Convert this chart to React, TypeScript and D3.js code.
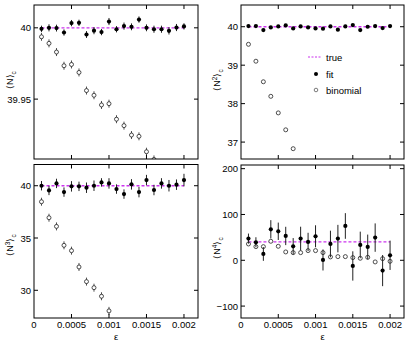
import React from 'react';
import * as d3 from 'd3';

const eps = [0.0001, 0.0002, 0.0003, 0.0004, 0.0005, 0.0006, 0.0007, 0.0008, 0.0009, 0.001,
  0.0011, 0.0012, 0.0013, 0.0014, 0.0015, 0.0016, 0.0017, 0.0018, 0.0019, 0.002];

const xTicks = [0, 0.0005, 0.001, 0.0015, 0.002];
const xTickLabels = ['0', '0.0005', '0.001', '0.0015', '0.002'];

// Panel 1: <N>_c
const c1Fit = [39.9993, 40.0, 39.9998, 39.9967, 40.0033, 40.0035, 39.9953, 39.998, 39.997, 40.0044,
  39.999, 40.0012, 40.0007, 40.0058, 40.0, 39.999, 39.999, 39.9979, 40.0002, 40.001];
const c1FitErr = [0.0022, 0.0025, 0.0024, 0.0022, 0.0022, 0.0022, 0.0024, 0.0025, 0.0022, 0.0025,
  0.0022, 0.0025, 0.0024, 0.0022, 0.0024, 0.0025, 0.0025, 0.0026, 0.0025, 0.0022];
const c1Bin = [39.9937, 39.9891, 39.983, 39.9734, 39.9743, 39.9687, 39.956, 39.9527, 39.9459, 39.9468,
  39.9359, 39.9314, 39.9248, 39.9239, 39.9131, 39.9077];
const c1Ticks = [39.95, 40];
const c1TickLabels = ['39.95', '40'];

// Panel 2: <N^2>_c
const c2Fit = [40.017, 40.017, 39.914, 39.983, 40.009, 40.034, 39.957, 40.009, 39.983, 39.957,
  39.948, 40.009, 39.922, 40.009, 40.043, 39.914, 40.0, 40.017, 39.966, 40.017];
const c2Bin = [39.543, 39.103, 38.569, 38.19, 37.759, 37.319, 36.828];
const c2Ticks = [37, 38, 39, 40];
const c2TickLabels = ['37', '38', '39', '40'];

// Panel 3: <N^3>_c
const c3Fit = [40.0, 39.55, 40.22, 39.39, 39.94, 39.94, 39.81, 40.0, 40.32, 40.22,
  39.68, 39.2, 40.13, 39.39, 40.54, 39.59, 40.22, 40.0, 40.1, 40.54];
const c3FitErr = [0.45, 0.45, 0.45, 0.45, 0.5, 0.45, 0.5, 0.5, 0.4, 0.5,
  0.45, 0.45, 0.5, 0.5, 0.5, 0.5, 0.5, 0.55, 0.5, 0.6];
const c3Bin = [38.47, 36.94, 36.11, 34.3, 33.79, 32.23, 30.83, 30.25, 29.43, 28.03];
const c3Ticks = [30, 35, 40];
const c3TickLabels = ['30', '35', '40'];

// Panel 4: <N^4>_c
const c4Fit = [47.3, 39.3, 13.8, 67.6, 63.3, 53.1, 30.5, 47.3, 40, 52.4,
  0.7, 35.6, 47.3, 74.9, -12.4, 33.5, 29.1, 49.5, -22.5, 10.9];
const c4FitErr = [11, 11, 15, 20, 19, 20, 18, 26, 20, 24,
  23, 29, 30, 28, 32, 29, 27, 31, 34, 32];
const c4Bin = [35.6, 29.8, 29.8, 41.5, 30.5, 18.2, 16.7, 16.7, 21.1, 21.1,
  16.7, 7.3, 8.0, 8.0, 5.8, 4.4, 6.5, -3.6, 3.6, -2.2];
const c4Ticks = [-100, 0, 100, 200];
const c4TickLabels = ['\u2212100', '0', '100', '200'];

const trueValue = 40;
const legendLabels = ['true', 'fit', 'binomial'];

const FONT = 'Liberation Sans, Arial, Helvetica, sans-serif';
const MAGENTA = '#cc33ee';

type PanelCfg = {
  id: string;
  x0: number; x1: number; y0: number; y1: number;
  yDomain: [number, number];
  fit: number[]; fitErr?: number[];
  bin: number[]; binBars: boolean;
  yTicks: number[]; yTickLabels: string[];
  power: string;
  labelY: number;
  showX: boolean;
  legend?: boolean;
};

const panels: PanelCfg[] = [
  { id: 'p1', x0: 34, x1: 198, y0: 5, y1: 159, yDomain: [39.908, 40.016], fit: c1Fit, fitErr: c1FitErr,
    bin: c1Bin, binBars: true, yTicks: c1Ticks, yTickLabels: c1TickLabels, power: '', labelY: 80, showX: false },
  { id: 'p2', x0: 241, x1: 404, y0: 5, y1: 159, yDomain: [36.56, 40.565], fit: c2Fit,
    bin: c2Bin, binBars: false, yTicks: c2Ticks, yTickLabels: c2TickLabels, power: '2', labelY: 80, showX: false, legend: true },
  { id: 'p3', x0: 34, x1: 198, y0: 164.5, y1: 318, yDomain: [27.35, 42.03], fit: c3Fit, fitErr: c3FitErr,
    bin: c3Bin, binBars: true, yTicks: c3Ticks, yTickLabels: c3TickLabels, power: '3', labelY: 245, showX: true },
  { id: 'p4', x0: 241, x1: 404, y0: 165, y1: 318, yDomain: [-126, 208], fit: c4Fit, fitErr: c4FitErr,
    bin: c4Bin, binBars: false, yTicks: c4Ticks, yTickLabels: c4TickLabels, power: '4', labelY: 248, showX: true },
];

function Panel({ p }: { p: PanelCfg }) {
  const x = d3.scaleLinear().domain([0, 0.002187]).range([p.x0, p.x1]);
  const y = d3.scaleLinear().domain(p.yDomain).range([p.y1, p.y0]);
  const tl = 4;
  const lineGen = d3.line<number>().x((d) => x(d)).y(() => y(trueValue));
  return (
    <g>
      <defs>
        <clipPath id={'clip' + p.id}>
          <rect x={p.x0} y={p.y0} width={p.x1 - p.x0} height={p.y1 - p.y0} />
        </clipPath>
      </defs>
      <g clipPath={`url(#clip${p.id})`}>
        <path d={lineGen([eps[0], eps[eps.length - 1]]) || ''} stroke={MAGENTA} strokeWidth={1.3}
          strokeDasharray="3,2" fill="none" />
        {p.bin.map((v, i) => (
          <g key={'b' + i}>
            {p.binBars && (
              <line x1={x(eps[i])} x2={x(eps[i])} y1={y(v) - 4} y2={y(v) + 4} stroke="#222" strokeWidth={0.8} />
            )}
            <circle cx={x(eps[i])} cy={y(v)} r={2} fill="white" stroke="#222" strokeWidth={0.8} />
          </g>
        ))}
        {p.fit.map((v, i) => (
          <g key={'f' + i}>
            {p.fitErr && (
              <line x1={x(eps[i])} x2={x(eps[i])} y1={y(v - p.fitErr[i])} y2={y(v + p.fitErr[i])}
                stroke="#222" strokeWidth={1} />
            )}
            <circle cx={x(eps[i])} cy={y(v)} r={2.1} fill="black" />
          </g>
        ))}
      </g>
      <rect x={p.x0} y={p.y0} width={p.x1 - p.x0} height={p.y1 - p.y0} fill="none" stroke="black" strokeWidth={1} />
      {xTicks.slice(1).map((t, i) => (
        <g key={'xt' + i}>
          <line x1={x(t)} x2={x(t)} y1={p.y1} y2={p.y1 - tl} stroke="black" />
          <line x1={x(t)} x2={x(t)} y1={p.y0} y2={p.y0 + tl} stroke="black" />
        </g>
      ))}
      {p.showX && xTicks.map((t, i) => (
        <text key={'xl' + i} x={x(t)} y={p.y1 + 10} fontSize={9.5} fontFamily={FONT} textAnchor="middle">
          {xTickLabels[i]}
        </text>
      ))}
      {p.showX && (
        <text x={(p.x0 + p.x1) / 2} y={p.y1 + 22} fontSize={9.5} fontFamily={FONT} textAnchor="middle">ε</text>
      )}
      {p.yTicks.map((t, i) => (
        <g key={'yt' + i}>
          <line x1={p.x0} x2={p.x0 + tl} y1={y(t)} y2={y(t)} stroke="black" />
          <line x1={p.x1} x2={p.x1 - tl} y1={y(t)} y2={y(t)} stroke="black" />
          <text x={p.x0 - 3} y={y(t) + 3.5} fontSize={9.5} fontFamily={FONT} textAnchor="end">
            {p.yTickLabels[i]}
          </text>
        </g>
      ))}
      <text transform={`translate(${p.x0 - 21},${p.labelY}) rotate(-90)`} fontSize={9} fontFamily={FONT}
        textAnchor="middle">
        {'\u27E8N'}
        {p.power && <tspan dy={-3} fontSize={6.5}>{p.power}</tspan>}
        <tspan dy={p.power ? 3 : 0}>{'\u27E9'}</tspan>
        <tspan dy={2.5} fontSize={6.5}>c</tspan>
      </text>
      {p.legend && (
        <g fontFamily={FONT} fontSize={9.5}>
          <line x1={308} x2={322} y1={57} y2={57} stroke={MAGENTA} strokeWidth={1.1} strokeDasharray="2,1.5" />
          <text x={326} y={60.5}>{legendLabels[0]}</text>
          <circle cx={316} cy={74} r={2} fill="black" />
          <text x={326} y={77.5}>{legendLabels[1]}</text>
          <circle cx={316} cy={90} r={1.8} fill="white" stroke="#444" strokeWidth={0.7} />
          <text x={326} y={93.5}>{legendLabels[2]}</text>
        </g>
      )}
    </g>
  );
}

export default function App() {
  return (
    <svg width={407} height={345} style={{ position: 'absolute', left: 0, top: 0, background: 'white' }}>
      <rect x={0} y={0} width={407} height={345} fill="white" />
      {panels.map((p) => <Panel key={p.id} p={p} />)}
    </svg>
  );
}
